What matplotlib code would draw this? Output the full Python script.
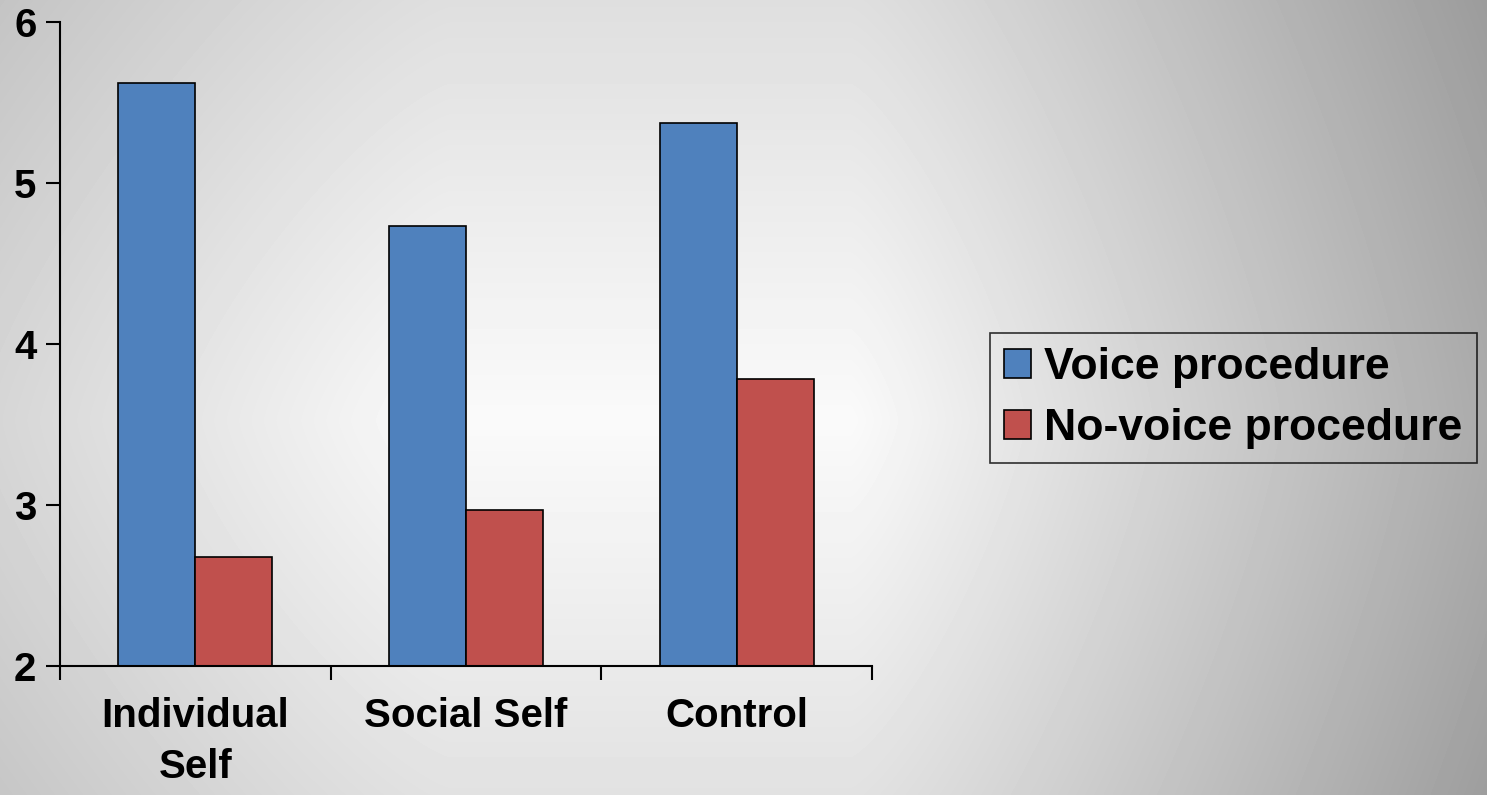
import numpy as np
import matplotlib
matplotlib.use('Agg')
from matplotlib import pyplot as plt

categories = ['Individual\nSelf', 'Social Self', 'Control']
voice = [5.62, 4.73, 5.37]
no_voice = [2.68, 2.97, 3.78]
series_names = ['Voice procedure', 'No-voice procedure']
y_ticks = [2, 3, 4, 5, 6]

plt.rcParams['font.family'] = ['Liberation Sans', 'DejaVu Sans']
plt.rcParams['font.weight'] = 'bold'

W, H = 1487, 795
fig = plt.figure(figsize=(W / 100, H / 100), dpi=100)

# grey background: near-white band in the middle, darker towards the edges,
# falling off faster on the right
yy, xx = np.mgrid[0:H, 0:W].astype(float)
dx = np.where(xx < 450, (450 - xx) * 0.08, np.where(xx > 850, (xx - 850) * 0.125, 0.0))
dy = np.abs(yy - 420) * 0.065
p = 1.3
drop = (dx ** p + dy ** p) ** (1 / p)
shade = np.clip(250 - drop, 0, 255) / 255.0
bg = fig.add_axes([0, 0, 1, 1])
bg.imshow(shade, cmap='gray', vmin=0, vmax=1, aspect='auto', interpolation='bilinear')
bg.axis('off')

ax = fig.add_axes([60 / W, 1 - 666 / H, (872 - 60) / W, (666 - 22) / H])
ax.patch.set_alpha(0)

x = np.arange(len(categories))
w = 0.285
b1 = ax.bar(x - w / 2, voice, w, color='#4f81bd', edgecolor='black', linewidth=1.2,
            label=series_names[0])
b2 = ax.bar(x + w / 2, no_voice, w, color='#c0504d', edgecolor='black', linewidth=1.2,
            label=series_names[1])

ax.set_ylim(2, 6)
ax.set_xlim(-0.5, len(categories) - 0.5)
ax.set_yticks(y_ticks)
ax.set_yticklabels([str(t) for t in y_ticks], fontsize=29, fontweight='bold')
ax.set_xticks(x)
ax.set_xticklabels(categories, fontsize=29, fontweight='bold', linespacing=1.45)
ax.tick_params(axis='x', length=0, pad=22)
ax.tick_params(axis='y', length=10, width=1.5, pad=7)
# category separators below the axis
ax.set_xticks(np.arange(len(categories) + 1) - 0.5, minor=True)
ax.tick_params(axis='x', which='minor', length=10, width=1.5, direction='out')

for s in ['top', 'right']:
    ax.spines[s].set_visible(False)
for s in ['left', 'bottom']:
    ax.spines[s].set_linewidth(1.5)

leg = fig.legend(handles=[b1, b2], loc='upper left', bbox_to_anchor=(990 / W, 1 - 333 / H),
                 fontsize=32, frameon=True, fancybox=False, handlelength=0.6, handleheight=0.6,
                 handletextpad=0.3, borderpad=0.32, labelspacing=0.45, borderaxespad=0)
leg.get_frame().set_edgecolor('black')
leg.get_frame().set_facecolor('none')
leg.get_frame().set_linewidth(1.2)
for t in leg.get_texts():
    t.set_fontweight('bold')

fig.savefig('out.png', dpi=100)
